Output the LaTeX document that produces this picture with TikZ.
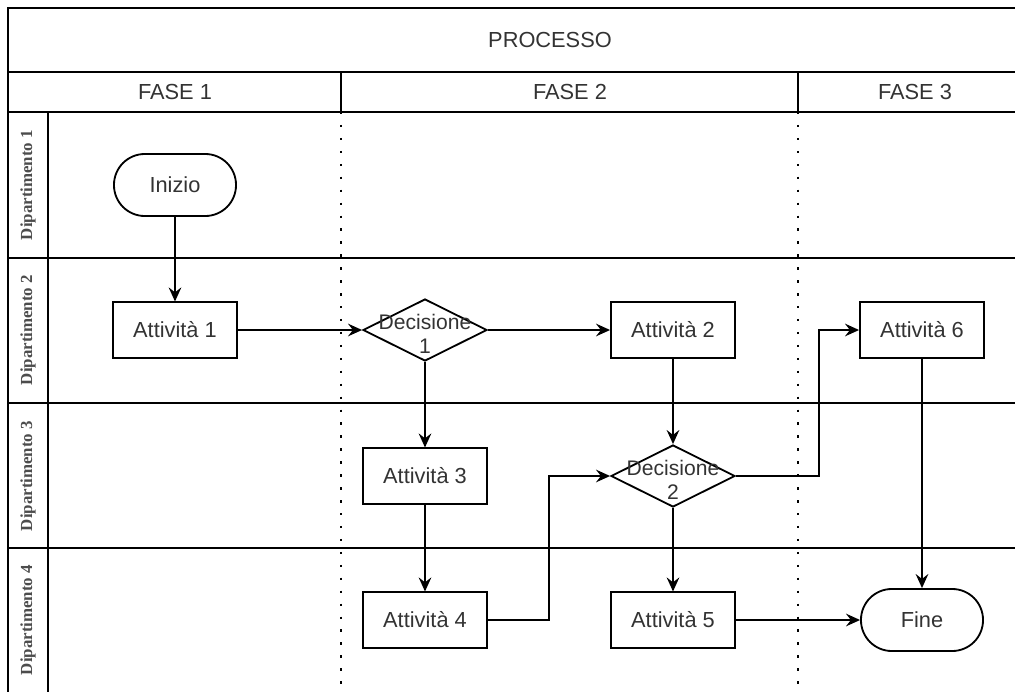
\documentclass[tikz,border=0pt]{standalone}
\usepackage{fontspec}
\setmainfont{Liberation Sans}
\newfontfamily\deptfont{Liberation Serif}
\usetikzlibrary{arrows.meta,shapes.geometric}

\begin{document}
\begin{tikzpicture}[x=0.025cm,y=-0.025cm,line width=1.3pt,
	>={Stealth[length=10pt,width=9pt,inset=3.5pt]},
	every node/.style={font=\fontsize{15.5}{18}\selectfont,text=black!80},
	attivita/.style={draw,line width=1.3pt,minimum width=3.1cm,minimum height=1.38cm},
	terminale/.style={draw,line width=1.3pt,rounded corners=0.77cm,minimum width=3.05cm,minimum height=1.55cm},
	decisione/.style={draw,diamond,line width=1.3pt,minimum width=3.1cm,minimum height=1.55cm,inner sep=0pt},
	dlabel/.style={align=center,inner sep=0pt,yshift=-0.1cm,font=\fontsize{15}{17.5}\selectfont},
	dept/.style={rotate=90,font=\deptfont\bfseries\fontsize{12}{14}\selectfont,text=black!70},
	corsia/.style={line width=1.6pt,dash pattern=on 1.7pt off 7.5pt}]
	\useasboundingbox (0,0) rectangle (1015,692);

	% griglia delle corsie
	\draw (8,692) -- (8,8) -- (1015,8);
	\foreach \y in {72,112,258,403,548}{
		\draw (8,\y) -- (1015,\y);
	}
	\draw (48,112) -- (48,692);
	\draw (341,72) -- (341,112);
	\draw (798,72) -- (798,112);
	\draw [corsia] (341,112) -- (341,692);
	\draw [corsia] (798,112) -- (798,692);

	% intestazioni
	\path (550,40) node (processo) {PROCESSO};
	\path (175,92) node (fase1) {FASE 1};
	\path (570,92) node (fase2) {FASE 2};
	\path (915,92) node (fase3) {FASE 3};
	\path (28,185) node [dept] (dip1) {Dipartimento 1};
	\path (28,330) node [dept] (dip2) {Dipartimento 2};
	\path (28,476) node [dept] (dip3) {Dipartimento 3};
	\path (28,620) node [dept] (dip4) {Dipartimento 4};

	% blocchi
	\node [terminale] (inizio) at (175,185) {Inizio};
	\node [attivita] (a1) at (175,330) {Attività 1};
	\node [decisione,label={[dlabel]center:Decisione\\1}] (d1) at (425,330) {};
	\node [attivita] (a2) at (673,330) {Attività 2};
	\node [attivita] (a6) at (922,330) {Attività 6};
	\node [attivita] (a3) at (425,476) {Attività 3};
	\node [decisione,label={[dlabel]center:Decisione\\2}] (d2) at (673,476) {};
	\node [attivita] (a4) at (425,620) {Attività 4};
	\node [attivita] (a5) at (673,620) {Attività 5};
	\node [terminale] (fine) at (922,620) {Fine};

	% collegamenti
	\draw [->] (inizio) -- (a1);
	\draw [->] (a1) -- (d1);
	\draw [->] (d1) -- (a2);
	\draw [->] (d1) -- (a3);
	\draw [->] (a2) -- (d2);
	\draw [->] (a3) -- (a4);
	\draw [->] (a4.east) -- ++(61,0) |- (d2.west);
	\draw [->] (d2.east) -- ++(83,0) |- (a6.west);
	\draw [->] (d2) -- (a5);
	\draw [->] (a5) -- (fine);
	\draw [->] (a6) -- (fine);
\end{tikzpicture}
\end{document}
